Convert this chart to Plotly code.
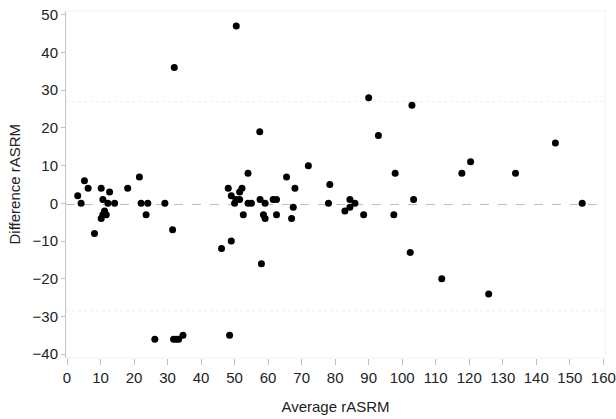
import plotly.graph_objects as go

# Bland-Altman data: average rASRM vs difference rASRM
avg_rasrm = [3.2, 4.2, 5.2, 6.3, 10.2, 10.7, 12.2, 12.7, 14.2, 18.1, 21.6, 22.1, 24.1, 29.2, 32.0,
             11.2, 11.7, 10.7, 10.2, 8.2, 23.6, 31.5, 26.2, 31.8, 32.6, 33.3, 34.6,
             50.5, 57.5, 90.0, 92.9, 72.0, 54.0, 65.5, 97.9, 48.1, 52.2, 51.5, 68.0, 78.4,
             49.0, 50.4, 51.5, 57.6, 61.5, 62.5, 50.0, 54.0, 55.0, 59.1, 78.0, 84.4, 85.9,
             67.5, 84.4, 82.9, 52.6, 58.6, 59.1, 62.5, 67.0, 88.5, 97.5, 46.1, 49.0, 58.0,
             48.5, 102.4, 102.9, 103.4, 117.8, 120.4, 133.8, 145.7, 153.7, 111.8, 125.8]
diff_rasrm = [2, 0, 6, 4, 4, 1, 0, 3, 0, 4, 7, 0, 0, 0, 36,
              -2, -3, -3, -4, -8, -3, -7, -36, -36, -36, -36, -35,
              47, 19, 28, 18, 10, 8, 7, 8, 4, 4, 3, 4, 5,
              2, 1, 1, 1, 1, 1, 0, 0, 0, 0, 0, 1, 0,
              -1, -1, -2, -3, -3, -4, -3, -4, -3, -3, -12, -10, -16,
              -35, -13, 26, 1, 8, 11, 8, 16, 0, -20, -24]

mean_diff = -0.3
upper_loa = 27.0
lower_loa = -28.5

x_ticks = list(range(0, 161, 10))
y_ticks = list(range(-40, 51, 10))

fig = go.Figure()
fig.add_trace(go.Scatter(
    x=avg_rasrm, y=diff_rasrm, mode="markers",
    marker=dict(color="black", size=7, line=dict(width=0)),
    showlegend=False,
))

# faint plot border
fig.add_shape(type="rect", xref="paper", yref="paper", x0=0, x1=1, y0=0, y1=1,
              line=dict(color="#f2f2f2", width=1), layer="below")
# limits of agreement (very faint)
for v in (upper_loa, lower_loa):
    fig.add_shape(type="line", xref="paper", yref="y", x0=0, x1=1, y0=v, y1=v,
                  line=dict(color="#eeeeee", width=1, dash="dot"), layer="below")
# mean difference
fig.add_shape(type="line", xref="paper", yref="y", x0=0, x1=1, y0=mean_diff, y1=mean_diff,
              line=dict(color="#bdbdbd", width=1, dash="dash"), layer="below")

# y-axis title as a rotated annotation (placed in the left margin)
fig.add_annotation(
    text="Difference rASRM", textangle=-90, showarrow=False,
    xref="paper", yref="paper", x=-52 / 539, y=0.5, xanchor="center", yanchor="middle",
    font=dict(size=15, color="#222222"),
)

font_family = "Liberation Sans, Arial, sans-serif"
fig.update_layout(
    width=616, height=419,
    margin=dict(l=66, r=11, t=11, b=61),
    paper_bgcolor="white", plot_bgcolor="white",
    font=dict(family=font_family, size=15, color="#222222"),
    hovermode=False,
    xaxis=dict(
        range=[-0.3, 160.5], tickvals=x_ticks, showgrid=False, zeroline=False,
        showline=False, ticks="outside", ticklen=6, tickcolor="#c0c0c0",
        tickfont=dict(size=15, color="#222222"), automargin=False,
        ticklabeloverflow="allow",
        title=dict(text="Average rASRM", font=dict(size=15, color="#222222"), standoff=16),
    ),
    yaxis=dict(
        range=[-41, 51], tickvals=y_ticks, showgrid=False, zeroline=False,
        showline=True, linecolor="#c8c8c8", linewidth=1,
        ticks="outside", ticklen=4, tickcolor="#c0c0c0",
        tickfont=dict(size=15, color="#222222"), automargin=False,
        ticklabeloverflow="allow",
    ),
)

fig.write_html(
    "out.html",
    config={"displayModeBar": False},
    post_script="document.body.style.margin='0';document.body.style.overflow='hidden';",
)
